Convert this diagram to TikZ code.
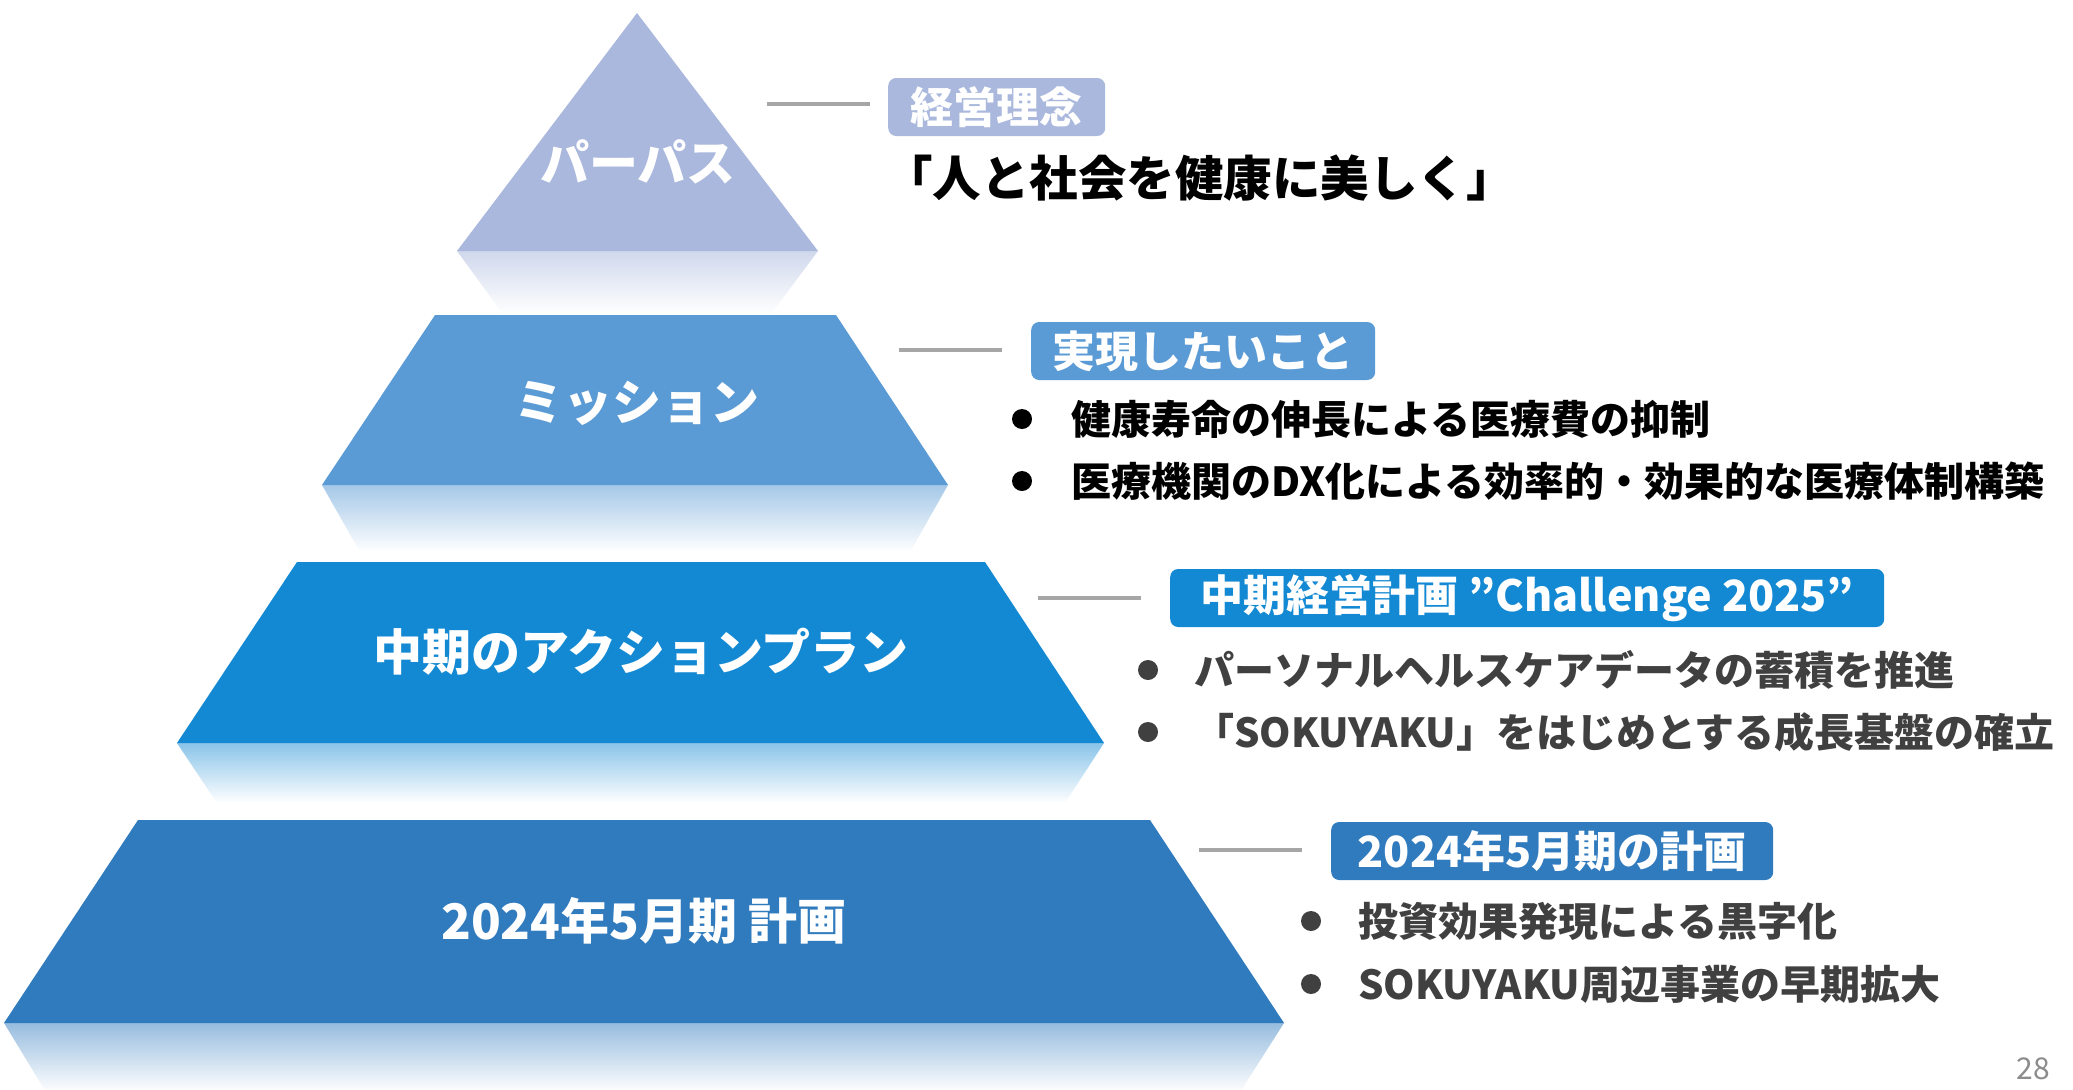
\documentclass[tikz,border=0pt]{standalone}
\usepackage{fontspec}
\setmainfont{Noto Sans CJK JP}
\definecolor{cTri}{HTML}{A9B8DC}
\definecolor{cMis}{HTML}{5B9BD5}
\definecolor{cAct}{HTML}{1489D3}
\definecolor{cPln}{HTML}{307ABE}
\definecolor{lineGray}{HTML}{A6A6A6}
\definecolor{txtDark}{HTML}{404040}
\definecolor{pageGray}{HTML}{8C8C8C}
\tikzset{
  pyrlabel/.style={text=white, inner sep=0pt, font=\bfseries\fontsize{49}{57}\selectfont},
  tagbox/.style={rounded corners=8pt, fill=#1, text=white, anchor=west, inner sep=0pt,
    minimum height=58pt, font=\bfseries\fontsize{43}{50}\selectfont},
  bul/.style={circle, fill=#1, minimum size=20pt, inner sep=0pt},
  btext/.style={anchor=west, inner sep=0pt, text=#1, font=\bfseries\fontsize{40}{48}\selectfont},
  conn/.style={draw=lineGray, line width=4pt},
}
\begin{document}
\begin{tikzpicture}[x=1pt,y=-1pt]
\useasboundingbox (0,0) rectangle (2073,1090);
\fill[white] (0,0) rectangle (2073,1090);

% ---------- reflections ----------
\shade[top color=cTri!55!white, bottom color=white] (457,251) -- (818,251) -- (771,314) -- (503,314) -- cycle;
\shade[top color=cMis!55!white, bottom color=white] (322,485) -- (948,485) -- (910,552) -- (360,552) -- cycle;
\shade[top color=cAct!50!white, bottom color=white] (177,743) -- (1104,743) -- (1065,803) -- (217,803) -- cycle;
\shade[top color=cPln!50!white, bottom color=white] (4,1023) -- (1284,1023) -- (1240,1092) -- (46,1092) -- cycle;

% ---------- pyramid ----------
\fill[cTri] (637,13) -- (818,251) -- (457,251) -- cycle;
\fill[cMis] (435,315) -- (836,315) -- (948,485) -- (322,485) -- cycle;
\fill[cAct] (297,562) -- (985,562) -- (1104,743) -- (177,743) -- cycle;
\fill[cPln] (138,820) -- (1150,820) -- (1284,1023) -- (4,1023) -- cycle;

\node[pyrlabel] (tri) at (638,162) {パーパス};
\node[pyrlabel] (mis) at (637,403) {ミッション};
\node[pyrlabel] (act) at (641,652) {中期のアクションプラン};
\node[pyrlabel] (pln) at (644,921) {2024年5月期 計画};

% ---------- tags ----------
\node[tagbox=cTri, minimum width=217pt] (tag1) at (888,107) {経営理念};
\node[tagbox=cMis, minimum width=344pt] (tag2) at (1031,351) {実現したいこと};
\node[tagbox=cAct, minimum width=714pt] (tag3) at (1170,598) {中期経営計画 ”Challenge 2025”};
\node[tagbox=cPln, minimum width=442pt] (tag4) at (1331,851) {2024年5月期の計画};

% ---------- connectors ----------
\coordinate (c1) at (767,104);
\coordinate (c2) at (899,350);
\coordinate (c3) at (1038,598);
\coordinate (c4) at (1199,850);
\draw[conn] (c1) -- ([xshift=-18pt]tag1.west |- c1);
\draw[conn] (c2) -- ([xshift=-29pt]tag2.west |- c2);
\draw[conn] (c3) -- ([xshift=-29pt]tag3.west |- c3);
\draw[conn] (c4) -- ([xshift=-29pt]tag4.west |- c4);

% ---------- texts ----------
\node[anchor=west, inner sep=0pt, font=\bfseries\fontsize{48.5}{57}\selectfont] (quote) at (884,178) {「人と社会を健康に美しく」};

\node[bul=black] (m1) at (1022,419) {};
\node[bul=black] (m2) at (1022,481) {};
\node[btext=black] (mt1) at (1071,419) {健康寿命の伸長による医療費の抑制};
\node[btext=black] (mt2) at (1071,481) {医療機関のDX化による効率的・効果的な医療体制構築};

\node[bul=txtDark] (a1) at (1148,670) {};
\node[bul=txtDark] (a2) at (1148,732) {};
\node[btext=txtDark] (at1) at (1194,670) {パーソナルヘルスケアデータの蓄積を推進};
\node[btext=txtDark] (at2) at (1194,732) {「SOKUYAKU」をはじめとする成長基盤の確立};

\node[bul=txtDark] (p1) at (1311,921) {};
\node[bul=txtDark] (p2) at (1311,984) {};
\node[btext=txtDark] (pt1) at (1358,921) {投資効果発現による黒字化};
\node[btext=txtDark] (pt2) at (1358,984) {SOKUYAKU周辺事業の早期拡大};

\node[anchor=north east, inner sep=0pt, text=pageGray, font=\fontsize{30}{36}\selectfont] (page) at (2050,1058) {28};
\end{tikzpicture}
\end{document}
